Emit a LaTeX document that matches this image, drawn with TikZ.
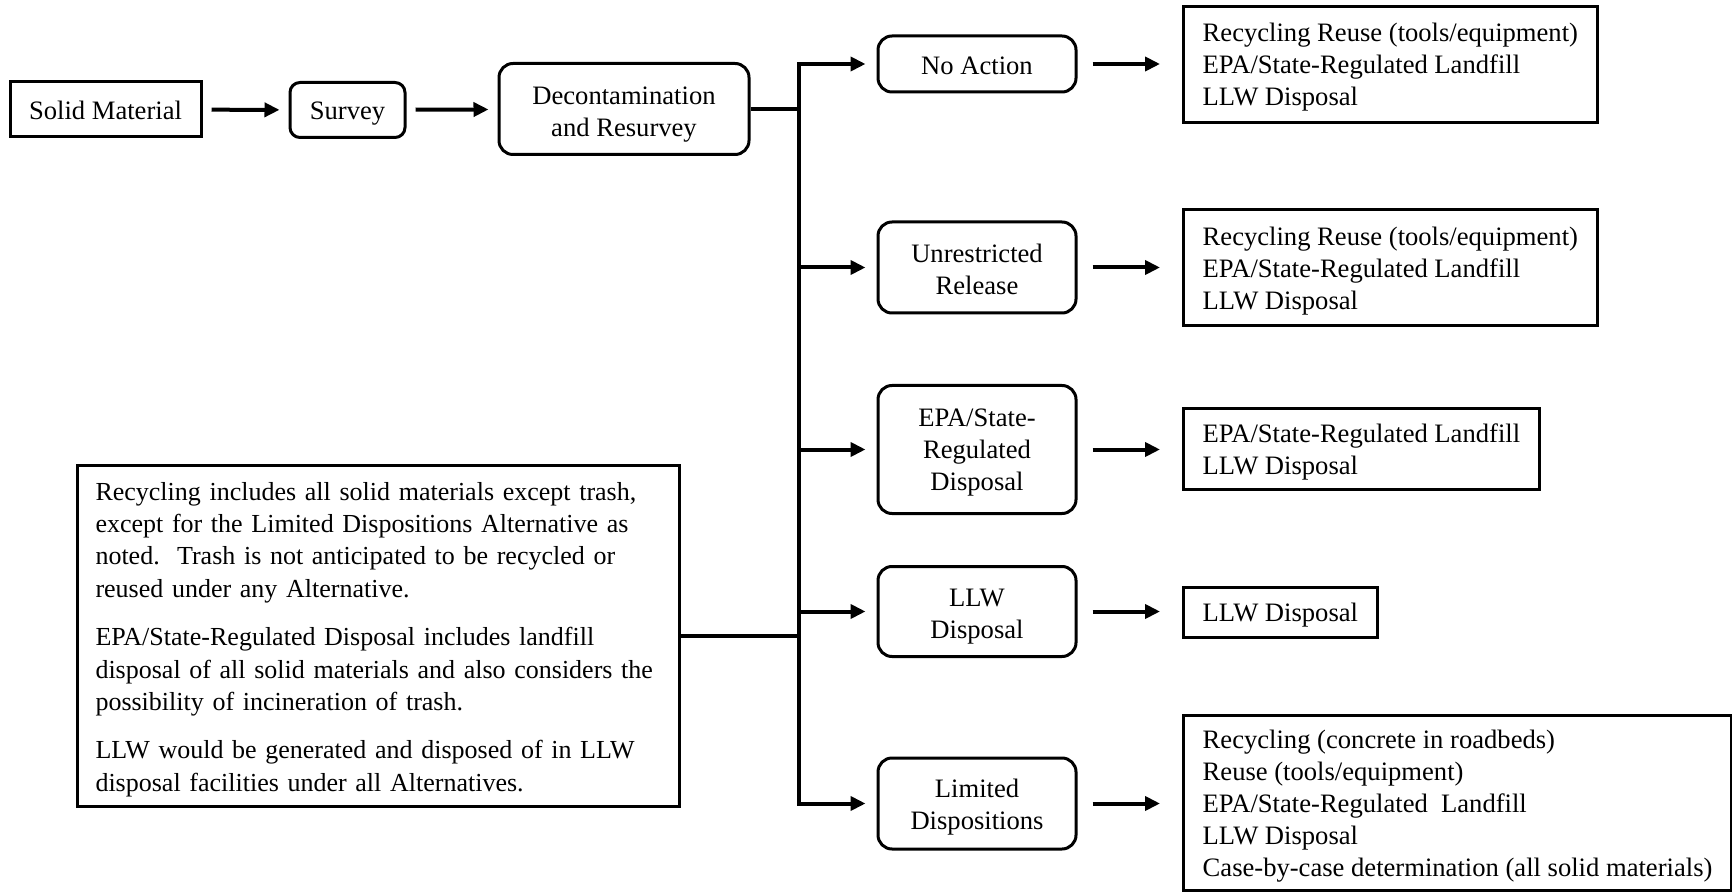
\documentclass[tikz,border=0pt]{standalone}
\usepackage{fontspec}
\setmainfont{Liberation Serif}
\usetikzlibrary{arrows.meta}
% invisible struts for the first and last text line of a node;
% the first-line height (key vh) sets how low the text block sits in its box
\newcommand\fs{\rule{0pt}{\nodeH}}
\newcommand\ls{\rule[-3.2pt]{0pt}{3.2pt}}
\begin{document}
\begin{tikzpicture}[x=0.5pt,y=-0.5pt,
  vh/.code={\def\nodeH{#1}}, vh=13.5pt,
  every node/.style={font=\fontsize{13.3}{16}\selectfont, inner sep=0pt},
  sqbox/.style={draw, line width=1.5pt, align=center},
  rndbox/.style={draw, line width=1.5pt, rounded corners=7pt, align=center},
  altbox/.style={rndbox, minimum width=99pt},
  listbox/.style={draw, line width=1.5pt, align=left, anchor=west, inner xsep=9.6pt, vh=13pt},
  conn/.style={line width=2pt},
  arr/.style={conn, -{Triangle[length=7.5pt,width=7pt]}},
]
\useasboundingbox (0,0) rectangle (1732,892);

% main flow
\node[sqbox, vh=13.5pt, minimum width=95.5pt, minimum height=27.5pt] (solid) at (105.5,109.5) {\fs Solid Material\ls};
\node[rndbox, vh=12.7pt, rounded corners=5pt, minimum width=57.5pt, minimum height=27.5pt] (survey) at (347.5,110) {\fs Survey\ls};
\node[rndbox, vh=15pt, minimum width=125pt, minimum height=45.5pt] (decon) at (624,109) {\fs Decontamination\\and Resurvey\ls};

\draw[arr, shorten <=4.5pt, shorten >=4.5pt] (solid) -- (survey);
\draw[arr, shorten <=4.5pt, shorten >=4.5pt] (survey) -- (decon);

% alternatives
\node[altbox, vh=13.3pt, minimum height=28pt] (noact) at (977,64) {\fs No Action\ls};
\node[altbox, vh=13.9pt, minimum height=45.5pt] (unres) at (977,267.5) {\fs Unrestricted\\Release\ls};
\node[altbox, vh=12pt, minimum height=64pt] (epa) at (977,449.5) {\fs EPA/State-\\Regulated\\Disposal\ls};
\node[altbox, vh=14pt, minimum height=45pt] (llw) at (977,611.5) {\fs LLW\\Disposal\ls};
\node[altbox, vh=13.5pt, minimum height=45.5pt] (limd) at (977,803.5) {\fs Limited\\Dispositions\ls};

% disposition lists
\node[listbox, vh=12pt, minimum height=58pt] (out1) at (1182,65)
  {\fs Recycling Reuse (tools/equipment)\\EPA/State-Regulated Landfill\\LLW Disposal\ls};
\node[listbox, minimum height=58pt] (out2) at (1182,268)
  {\fs Recycling Reuse (tools/equipment)\\EPA/State-Regulated Landfill\\LLW Disposal\ls};
\node[listbox, minimum height=40pt] (out3) at (1182,449)
  {\fs EPA/State-Regulated Landfill\\LLW Disposal\ls};
\node[listbox, minimum height=25pt] (out4) at (1182,612)
  {\fs LLW Disposal\ls};
\node[listbox, minimum height=87.5pt] (out5) at (1182,802.5)
  {\fs Recycling (concrete in roadbeds)\\Reuse (tools/equipment)\\EPA/State-Regulated\ \ Landfill\\LLW Disposal\\Case-by-case determination (all solid materials)\ls};

% explanatory note
\node[draw, line width=1.5pt, align=left, inner xsep=9pt, text width=283pt,
      font=\fontsize{13}{16.2}\selectfont,
      vh=12.9pt, minimum height=170.5pt] (note) at (378.5,636)
  {\fs\mbox{Recycling includes all solid materials except trash,}\\
   \mbox{except for the Limited Dispositions Alternative as}\\
   \mbox{noted.\ \ Trash is not anticipated to be recycled or}\\
   \mbox{reused under any Alternative.}\\[8pt]
   \mbox{EPA/State-Regulated Disposal includes landfill}\\
   \mbox{disposal of all solid materials and also considers the}\\
   \mbox{possibility of incineration of trash.}\\[8pt]
   \mbox{LLW would be generated and disposed of in LLW}\\
   \mbox{disposal facilities under all Alternatives.}\ls};

% distribution bus
\coordinate (bustop) at (799,64);
\coordinate (busbot) at (799,804);
\draw[conn, line cap=rect] (bustop) -- (busbot);
\draw[conn] (decon.east) -- (decon.east -| bustop);
\draw[conn] (note.east) -- (note.east -| bustop);

\foreach \n in {noact,unres,epa,llw,limd}
  \draw[arr, shorten >=5.5pt] (bustop |- \n.west) -- (\n.west);

% alternative to disposition arrows
\foreach \a/\b in {noact/out1,unres/out2,epa/out3,llw/out4,limd/out5}
  \draw[arr, shorten <=7.5pt, shorten >=11pt] (\a.east) -- (\a.east -| \b.west);
\end{tikzpicture}
\end{document}
